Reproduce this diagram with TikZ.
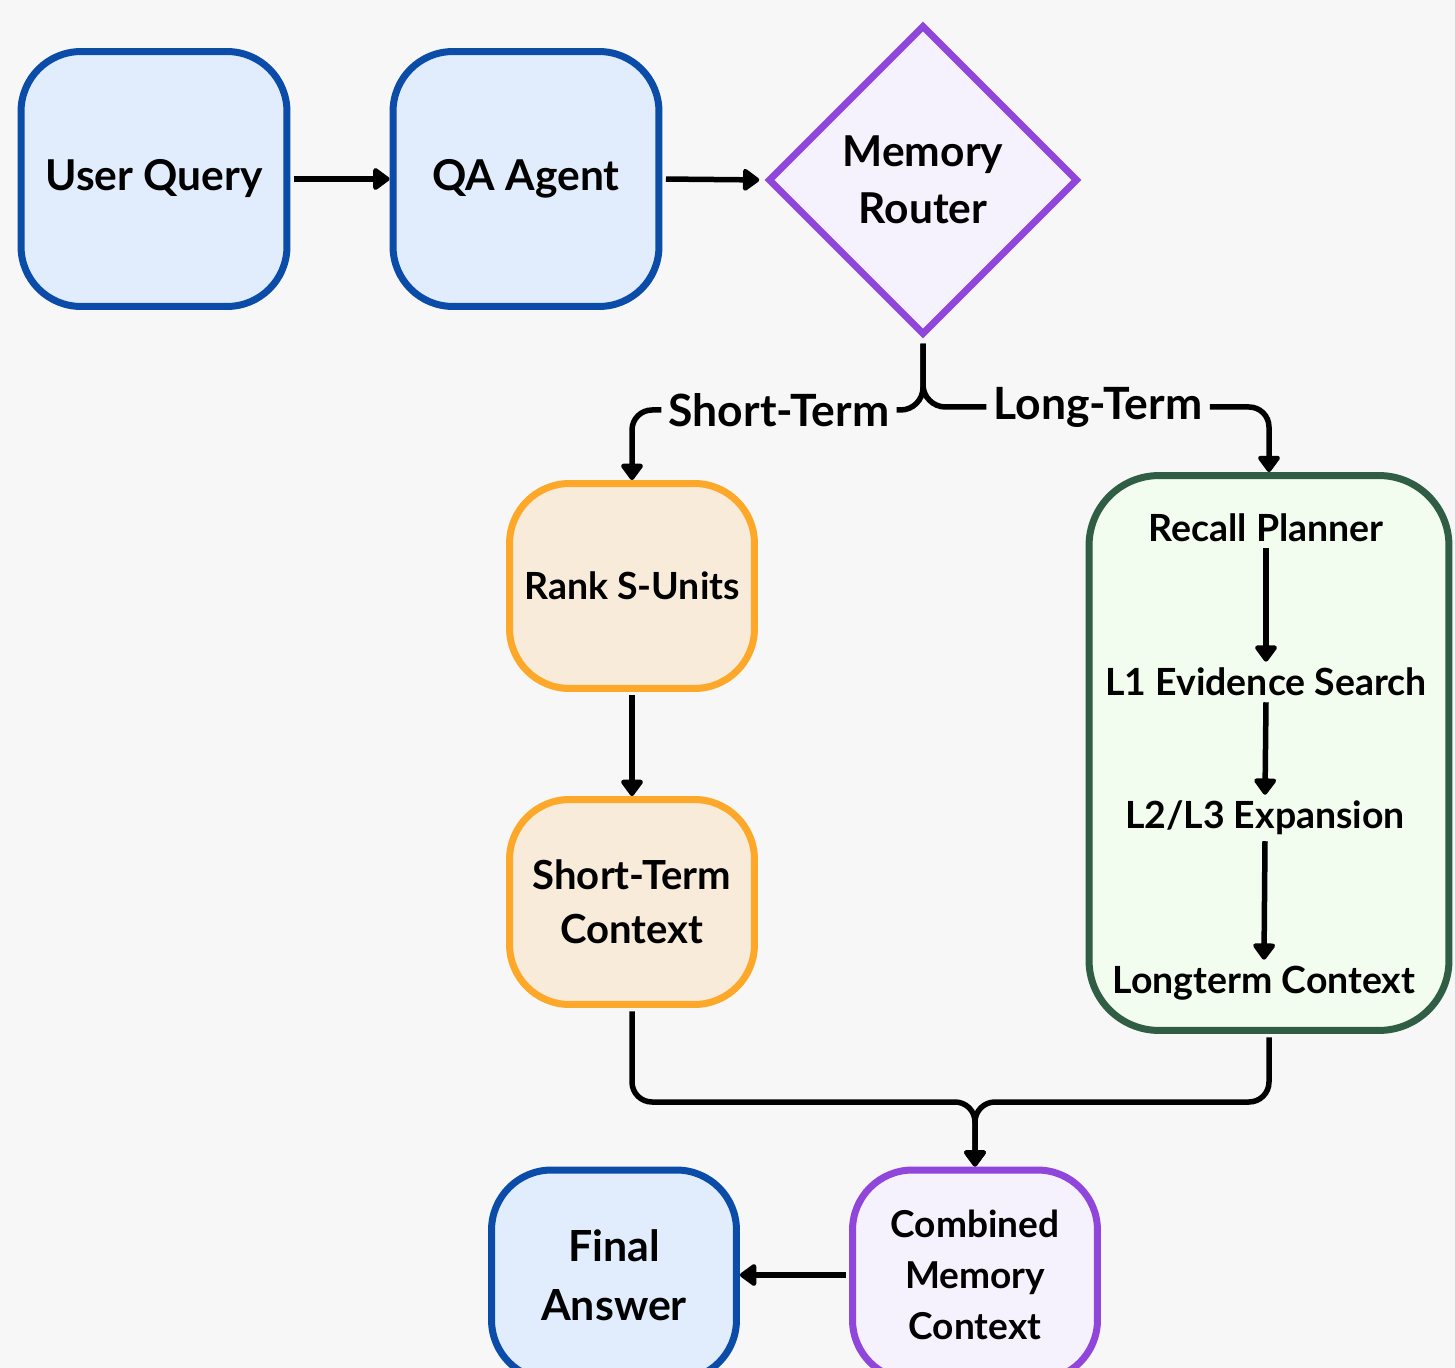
\documentclass[tikz,border=0pt]{standalone}
\usepackage{fontspec}
\setmainfont{Lato}
\usetikzlibrary{positioning, arrows.meta, shapes.geometric}

\definecolor{bgcol}{HTML}{F7F7F7}
\definecolor{qblue}{HTML}{0B4CA8}
\definecolor{qbluefill}{HTML}{E1EDFD}
\definecolor{qpurple}{HTML}{9146DB}
\definecolor{qpurplefill}{HTML}{F5F1FD}
\definecolor{qorange}{HTML}{FDA829}
\definecolor{qorangefill}{HTML}{F8EBDA}
\definecolor{qgreen}{HTML}{2F5E45}
\definecolor{qgreenfill}{HTML}{F2FCEF}

\tikzset{
  box/.style={draw, rounded corners=1.2cm, line width=0.14cm, align=center, inner sep=0pt},
  bluebox/.style={box, draw=qblue, fill=qbluefill},
  orangebox/.style={box, draw=qorange, fill=qorangefill, minimum width=4.9cm, minimum height=4.1cm},
  purplebox/.style={box, draw=qpurple, fill=qpurplefill},
  big/.style={font=\bfseries\fontsize{24.2}{32.5}\selectfont},
  lbl/.style={font=\bfseries\fontsize{25.3}{32}\selectfont},
  mid/.style={font=\bfseries\fontsize{22.8}{31}\selectfont},
  small/.style={font=\bfseries\fontsize{21.3}{28}\selectfont},
  link/.style={line width=0.11cm},
  arr/.style={link, -{Triangle[length=0.36cm,width=0.5cm,round]}},
}

\begin{document}
\begin{tikzpicture}[x=0.02cm, y=-0.02cm]
\useasboundingbox[fill=bgcol] (0,0) rectangle (1455,1368);

\node[bluebox, big, minimum width=5.32cm, minimum height=5.1cm] (uq) at (154,179) {User Query};
\node[bluebox, big, minimum width=5.32cm, minimum height=5.1cm] (qa) at (526,179) {QA Agent};
\node[draw=qpurple, fill=qpurplefill, line width=0.14cm, diamond, aspect=1, minimum size=6.2cm, inner sep=0pt, align=center, big] (router) at (923,180) {Memory\\Router};

\draw[arr, shorten <=2pt] (uq.east) -- (qa.west);
\draw[arr, shorten <=2pt, shorten >=3pt] (qa.east) -- (router.west);

\node[lbl, inner sep=4pt] (stl) at (779,410) {Short-Term};
\node[lbl, inner sep=4pt] (ltl) at (1098,407) {Long-Term};

\node[orangebox, small] (rank) at (632,586) {Rank S-Units};
\node[orangebox, mid] (stc) at (632,902) {Short-Term\\Context};

\node[box, draw=qgreen, fill=qgreenfill, rounded corners=1.4cm, minimum width=7.2cm, minimum height=11.1cm] (ltg) at (1269,753) {};
\node[small] (rp) at (1266,528) {Recall Planner};
\node[small] (l1) at (1266,682) {L1 Evidence Search};
\node[small] (l23) at (1265,818) {L2/L3 Expansion};
\node[small] (ltc) at (1264,983) {Longterm Context};

\draw[link, rounded corners=0.45cm, shorten <=3pt] (router.south) |- (stl.east);
\draw[link, rounded corners=0.45cm, shorten <=3pt] (router.south) |- (ltl.west);
\draw[arr, rounded corners=0.4cm] (stl.west) -| (rank.north);
\draw[arr, rounded corners=0.4cm] (ltl.east) -| (ltg.north);

\draw[arr, shorten <=2pt] (rank.south) -- (stc.north);
\draw[arr] (rp.south) -- (l1.north);
\draw[arr] (l1.south) -- (l23.north);
\draw[arr] (l23.south) -- (ltc.north);

\node[purplebox, font=\bfseries\fontsize{21.1}{29}\selectfont, minimum width=4.9cm, minimum height=4.2cm] (cmc) at (975,1275) {Combined\\Memory\\Context};
\node[bluebox, font=\bfseries\fontsize{24.4}{33.5}\selectfont, minimum width=4.9cm, minimum height=4.2cm] (fa) at (614,1275) {Final\\Answer};

\coordinate (mg) at (975,1102);
\draw[arr, rounded corners=0.4cm, shorten <=2pt] (stc.south) |- (mg) -- (cmc.north);
\draw[arr, rounded corners=0.4cm, shorten <=2pt] (ltg.south) |- (mg) -- (cmc.north);
\draw[arr, shorten <=2pt] (cmc.west) -- (fa.east);
\end{tikzpicture}
\end{document}
